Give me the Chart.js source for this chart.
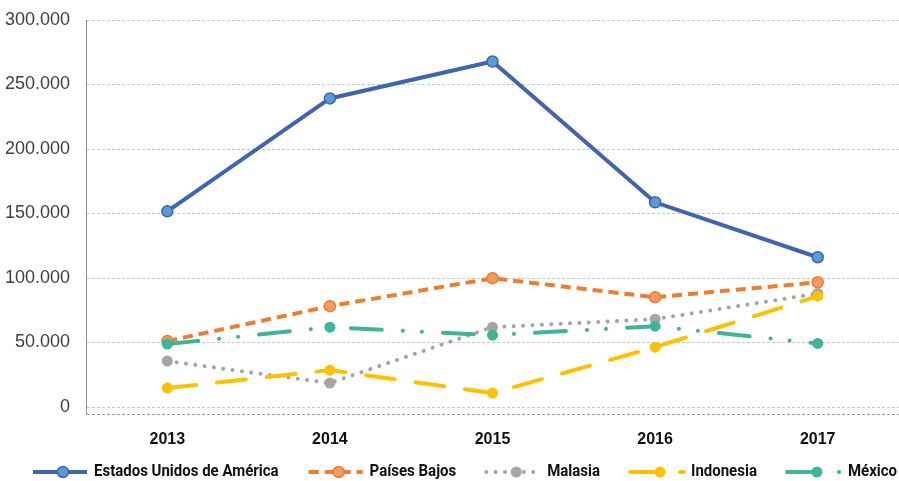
<!DOCTYPE html>
<html>
<head>
<meta charset="utf-8">
<script src="https://cdn.jsdelivr.net/npm/chart.js@4.4.1/dist/chart.umd.min.js"></script>
<style>
  html, body { margin: 0; padding: 0; background: #fff; }
  #wrap { width: 899px; height: 481px; position: relative; }
</style>
</head>
<body>
<div id="wrap"><canvas id="exportStats"></canvas></div>
<script>
// years on the x axis
var years = ['2013', '2014', '2015', '2016', '2017'];
// values
var usa = [151700, 239200, 267800, 158700, 116100];
var paisesBajos = [51100, 78200, 99800, 85100, 96700];
var malasia = [35600, 18600, 61900, 68100, 88000];
var indonesia = [14700, 28600, 10800, 46400, 85900];
var mexico = [48800, 61900, 55700, 62700, 49300];
// y axis tick values (the first one is the axis bottom, no label)
var yMin = -5400;
var yTicks = [yMin, 0, 50000, 100000, 150000, 200000, 250000, 300000];

// draws the legend under the plot: line sample + marker + label
var lineLegend = {
		id: 'lineLegend',
		afterDraw: function(chart) {
				var ctx = chart.ctx;
				var sets = chart.data.datasets;
				var sampleW = 54, gap = 7, itemGap = 30;
				var left = 33, right = 897;
				var y = 472;
				ctx.save();
				ctx.font = 'bold 17px Roboto, "Liberation Sans", sans-serif';
				var widths = sets.map(function(ds) { return ctx.measureText(ds.label).width; });
				var textTotal = widths.reduce(function(a, b) { return a + b; }, 0);
				var room = (right - left) - sets.length * (sampleW + gap) - itemGap * (sets.length - 1);
				var squeeze = Math.min(1, room / textTotal);
				var x = left;
				sets.forEach(function(ds, i) {
						ctx.save();
						ctx.strokeStyle = ds.borderColor;
						ctx.lineWidth = ds.borderWidth;
						ctx.lineCap = ds.borderCapStyle || 'butt';
						ctx.setLineDash(ds.borderDash || []);
						ctx.beginPath();
						ctx.moveTo(x, y);
						ctx.lineTo(x + sampleW, y);
						ctx.stroke();
						ctx.setLineDash([]);
						ctx.beginPath();
						ctx.arc(x + sampleW / 2 + 3, y, ds.pointRadius, 0, Math.PI * 2);
						ctx.fillStyle = ds.pointBackgroundColor;
						ctx.fill();
						if (ds.pointBorderWidth) {
								ctx.lineWidth = ds.pointBorderWidth;
								ctx.strokeStyle = ds.pointBorderColor;
								ctx.stroke();
						}
						ctx.restore();
						var w = widths[i] * squeeze;
						ctx.fillStyle = '#111';
						ctx.textBaseline = 'middle';
						ctx.textAlign = 'left';
						ctx.fillText(ds.label, x + sampleW + gap, y, w);
						x += sampleW + gap + w + itemGap;
				});
				ctx.restore();
		}
};

var ctx = document.getElementById('exportStats').getContext('2d');
var chart = new Chart(ctx, {
		type: 'line',
		data: {
				labels: years,
				datasets: [{
						label: 'Estados Unidos de América',
						data: usa,
						borderColor: '#4064AE',
						borderWidth: 4,
						pointRadius: 5.5,
						pointBackgroundColor: '#5B9BD5',
						pointBorderColor: '#3F63AD',
						pointBorderWidth: 1.5,
						order: 5
				}, {
						label: 'Países Bajos',
						data: paisesBajos,
						borderColor: '#ED7D31',
						borderWidth: 4,
						borderDash: [10, 6],
						pointRadius: 5.5,
						pointBackgroundColor: '#F39A62',
						pointBorderColor: '#ED7D31',
						pointBorderWidth: 1.5,
						order: 4
				}, {
						label: 'Malasia',
						data: malasia,
						borderColor: '#A5A5A5',
						borderWidth: 4,
						borderDash: [0.1, 9.3],
						borderCapStyle: 'round',
						pointRadius: 5.5,
						pointBackgroundColor: '#A5A5A5',
						pointBorderColor: '#A5A5A5',
						pointBorderWidth: 0,
						order: 3
				}, {
						label: 'Indonesia',
						data: indonesia,
						borderColor: '#FFC000',
						borderWidth: 4,
						borderDash: [29, 21],
						borderCapStyle: 'round',
						pointRadius: 5.5,
						pointBackgroundColor: '#FFC000',
						pointBorderColor: '#FFC000',
						pointBorderWidth: 0,
						order: 2
				}, {
						label: 'México',
						data: mexico,
						borderColor: '#3FB498',
						borderWidth: 4,
						borderDash: [31, 21, 0.1, 19, 0.1, 21],
						borderCapStyle: 'round',
						pointRadius: 5.5,
						pointBackgroundColor: '#3FB498',
						pointBorderColor: '#3FB498',
						pointBorderWidth: 0,
						order: 1
				}]
		},
		options: {
				responsive: true,
				maintainAspectRatio: false,
				animation: false,
				layout: { autoPadding: false, padding: { top: 20, right: 0, bottom: 27, left: 0 } },
				elements: { line: { tension: 0 } },
				plugins: {
						legend: { display: false },
						tooltip: { enabled: false }
				},
				scales: {
						x: {
								offset: true,
								grid: { display: false, drawTicks: false },
								border: { display: false },
								ticks: {
										color: '#111',
										padding: 16,
										font: { family: '"Liberation Sans", Arial, sans-serif', size: 16, weight: 'bold' }
								},
								afterFit: function(scale) {
										scale.height = 40;
										scale.paddingLeft = 0;
										scale.paddingRight = 0;
								}
						},
						y: {
								min: yMin,
								max: 300000,
								afterBuildTicks: function(scale) {
										scale.ticks = yTicks.map(function(v) { return { value: v }; });
								},
								grid: {
										drawTicks: false,
										color: function(c) { return c.tick && c.tick.value === yMin ? '#9a9a9a' : '#c4c4c4'; }
								},
								border: { display: true, color: '#8c8c8c', dash: [3, 2] },
								ticks: {
										color: '#404040',
										padding: 16,
										font: { family: '"Liberation Sans", Arial, sans-serif', size: 18 },
										callback: function(v) {
												if (v < 0) return '';
												return v === 0 ? '0' : v.toLocaleString('de-DE');
										}
								},
								afterFit: function(scale) {
										scale.width = 86;
										scale.paddingTop = 0;
										scale.paddingBottom = 0;
								}
						}
				}
		},
		plugins: [lineLegend]
});
</script>
</body>
</html>
